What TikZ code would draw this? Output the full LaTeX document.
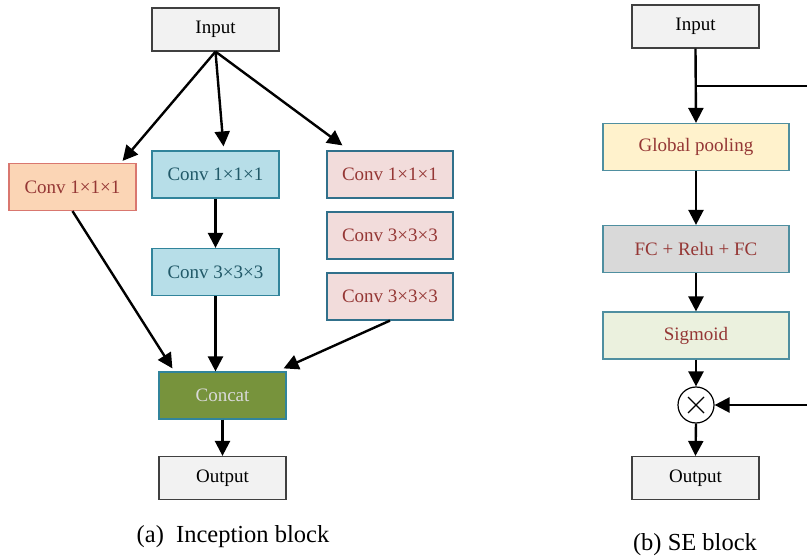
\documentclass[tikz,border=0pt]{standalone}
\usepackage{fontspec}
\setmainfont{Liberation Serif}
\usetikzlibrary{arrows.meta,calc}
\definecolor{gfill}{HTML}{F2F2F2}
\definecolor{gdraw}{HTML}{404040}
\definecolor{ofill}{HTML}{FBD5B5}
\definecolor{odraw}{HTML}{D9776F}
\definecolor{rtext}{HTML}{953735}
\definecolor{bfill}{HTML}{B7DEE8}
\definecolor{bdraw}{HTML}{31849B}
\definecolor{btext}{HTML}{215968}
\definecolor{pfill}{HTML}{F2DCDB}
\definecolor{pdraw}{HTML}{31708B}
\definecolor{cfill}{HTML}{77933C}
\definecolor{ctext}{HTML}{D9D9D9}
\definecolor{yfill}{HTML}{FFF2CC}
\definecolor{fcfill}{HTML}{D9D9D9}
\definecolor{sfill}{HTML}{EBF1DE}
\definecolor{tdraw}{HTML}{4F8FA0}
\tikzset{
  x=1pt,y=-1pt,
  box/.style={draw, line width=1.2pt, minimum height=47pt, inner sep=0pt, font=\fontsize{19}{21}\selectfont},
  wide/.style={box, minimum width=127pt},
  xwide/.style={box, minimum width=186pt},
  gbox/.style={wide, fill=gfill, draw=gdraw, minimum height=43pt},
  obox/.style={wide, fill=ofill, draw=odraw, text=rtext},
  bbox/.style={wide, fill=bfill, draw=bdraw, text=btext},
  pbox/.style={wide, fill=pfill, draw=pdraw, text=rtext},
  cbox/.style={wide, fill=cfill, draw=bdraw, text=ctext},
  arr/.style={line width=2.4pt, -{Triangle[length=15pt,width=15pt]}},
  ln/.style={line width=2.4pt},
  captext/.style={font=\fontsize{24.5}{26}\selectfont}
}
\begin{document}
\begin{tikzpicture}
\useasboundingbox (0,0) rectangle (807,559);
% left panel
\node[gbox] (in) at (215.5,29.5) {Input};
\node[obox] (o) at (72.5,187) {Conv 1×1×1};
\node[bbox] (b1) at (215.5,174.5) {Conv 1×1×1};
\node[bbox] (b2) at (215.5,272) {Conv 3×3×3};
\node[pbox, minimum width=126pt] (p1) at (390,174.5) {Conv 1×1×1};
\node[pbox, minimum width=126pt] (p2) at (390,235.5) {Conv 3×3×3};
\node[pbox, minimum width=126pt] (p3) at (390,296.5) {Conv 3×3×3};
\node[cbox] (c) at (222.5,395.5) {Concat};
\node[gbox] (out) at (222.5,478) {Output};
\node[captext] (capa) at (233,537) {(a)\ \ Inception block};

\draw[arr] (in.south) -- ($(o.north east)+(-14,-2)$);
\draw[arr] (in.south) -- ($(b1.north)+(8,-4)$);
\draw[arr] (in.south) -- ($(p1.north west)+(16,-5)$);
\draw[arr] (b1.south) -- (b2.north);
\draw[arr] (o.south) -- ($(c.north west)+(14,-3)$);
\draw[arr] (b2.south) -- (b2.south |- c.north);
\draw[arr] (p3.south) -- ($(c.north east)+(-3,-3)$);
\draw[arr] (c.south) -- (out.north);

% right panel
\node[gbox] (inr) at (695.5,26.5) {Input};
\node[xwide, fill=yfill, draw=tdraw, text=rtext] (gp) at (696,147) {Global pooling};
\node[xwide, fill=fcfill, draw=tdraw, text=rtext] (fc) at (696,249) {FC + Relu + FC};
\node[xwide, fill=sfill, draw=tdraw, text=rtext] (sg) at (696,335.5) {Sigmoid};
\node[draw, circle, line width=1.2pt, minimum size=36pt, inner sep=0pt, fill=white] (mul) at (696,405) {};
\draw[line width=1.3pt] ($(mul.center)+(-8,-8)$) -- ($(mul.center)+(8,8)$)
  ($(mul.center)+(-8,8)$) -- ($(mul.center)+(8,-8)$);
\node[gbox] (outr) at (695.5,478) {Output};
\node[captext] (capb) at (695,545) {(b) SE block};

\coordinate (br) at (696,86);
\coordinate (rt) at (812,86);
\coordinate (rb) at (812,405);
\draw[arr] (inr.south) -- (gp.north);
\draw[ln] (br) -- (rt) -- (rb);
\draw[arr] (rb) -- (mul.east);
\draw[arr] (gp.south) -- (fc.north);
\draw[arr] (fc.south) -- (sg.north);
\draw[arr] (sg.south) -- (mul.north);
\draw[arr] (mul.south) -- (outr.north);
\end{tikzpicture}
\end{document}
